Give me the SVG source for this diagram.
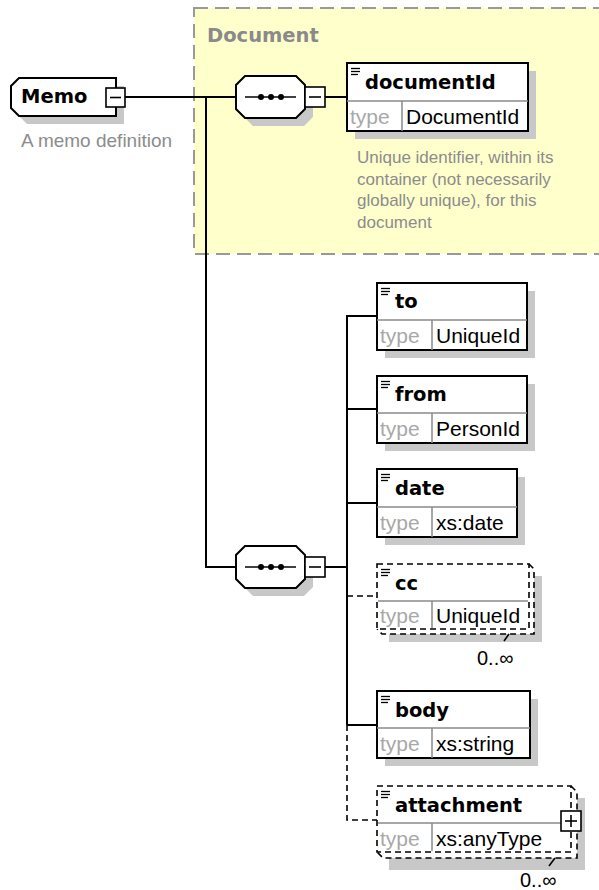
<svg xmlns="http://www.w3.org/2000/svg" width="599" height="890" viewBox="0 0 599 890">
<defs>
<style>
.bg{fill:#ffffff}
.grp{fill:#ffffcc;stroke:#999999;stroke-width:2;stroke-dasharray:14 7}
.grpt{font-family:"DejaVu Sans",sans-serif;font-weight:bold;font-size:19.5px;fill:#8a8a8a}
.sh{fill:#c8c8c8}
.box{fill:#ffffff;stroke:#000000;stroke-width:2}
.dbox{fill:#ffffff;stroke:#000000;stroke-width:1.6;stroke-dasharray:6 4}
.dline{fill:none;stroke:#000000;stroke-width:1.6;stroke-dasharray:6 4}
.div{stroke:#8a8a8a;stroke-width:1.5}
.icon{stroke:#000000;stroke-width:1.3}
.name{font-family:"DejaVu Sans",sans-serif;font-weight:bold;font-size:19.5px;fill:#000000}
.tl{font-family:"Liberation Sans",Arial,sans-serif;font-size:21px;fill:#a8a8a8}
.tv{font-family:"Liberation Sans",Arial,sans-serif;font-size:21px;fill:#000000}
.desc{font-family:"Liberation Sans",Arial,sans-serif;font-size:19px;fill:#8c8c8c}
.desc2{font-family:"Liberation Sans",Arial,sans-serif;font-size:17px;fill:#8c8c8c}
.occ{font-family:"Liberation Sans",Arial,sans-serif;font-size:20px;fill:#000000}
.con{fill:none;stroke:#000000;stroke-width:2}
.btn{fill:#ffffff;stroke:#000000;stroke-width:1.6}
.sym{stroke:#000000;stroke-width:1.6}
</style>
</defs>
<rect class="bg" x="0" y="0" width="599" height="890"/>

<g id="Document">
<rect class="grp" x="194" y="8" width="420" height="246"/>
<text class="grpt" x="207" y="42">Document</text>
</g>

<g id="connectors">
<line class="con" x1="125" y1="97" x2="236" y2="97"/>
<polyline class="con" points="206,97 206,567 236,567"/>
<line class="con" x1="325" y1="97" x2="347" y2="97"/>
<line class="con" x1="325" y1="567" x2="347" y2="567"/>
<line class="con" x1="347" y1="315" x2="347" y2="725"/>
<line class="con" x1="347" y1="316" x2="377" y2="316"/>
<line class="con" x1="347" y1="409" x2="377" y2="409"/>
<line class="con" x1="347" y1="503" x2="377" y2="503"/>
<line class="con" x1="347" y1="725" x2="377" y2="725"/>
<line class="dline" x1="347" y1="596" x2="377" y2="596"/>
<polyline class="dline" points="347,725 347,820 377,820"/>
</g>

<g id="Memo">
<path class="sh" d="M27,86 L124,86 L124,124 L27,124 L19,116 L19,94 Z"/>
<path class="box" d="M19,78 L116,78 L116,116 L19,116 L11,108 L11,86 Z"/>
<text class="name" x="21" y="103">Memo</text>
<rect class="btn" x="106" y="88" width="19" height="19"/>
<line class="sym" x1="110" y1="97.5" x2="121" y2="97.5"/>
<text class="desc" x="21" y="147">A memo definition</text>
</g>

<g id="seq1">
<path class="sh" d="M253,84 L304,84 L313,93 L313,117 L304,126 L253,126 L244,117 L244,93 Z"/>
<path class="box" d="M245,76 L296,76 L305,85 L305,109 L296,118 L245,118 L236,109 L236,85 Z"/>
<line class="sym" x1="245" y1="97" x2="296" y2="97"/>
<circle cx="261" cy="97" r="3"/><circle cx="271" cy="97" r="3"/><circle cx="281" cy="97" r="3"/>
<rect class="btn" x="305" y="87" width="20" height="20"/>
<line class="sym" x1="309" y1="97" x2="321" y2="97"/>
</g>

<g id="seq2">
<path class="sh" d="M253,554 L304,554 L313,563 L313,587 L304,596 L253,596 L244,587 L244,563 Z"/>
<path class="box" d="M245,546 L296,546 L305,555 L305,579 L296,588 L245,588 L236,579 L236,555 Z"/>
<line class="sym" x1="245" y1="567" x2="296" y2="567"/>
<circle cx="261" cy="567" r="3"/><circle cx="271" cy="567" r="3"/><circle cx="281" cy="567" r="3"/>
<rect class="btn" x="305" y="557" width="20" height="20"/>
<line class="sym" x1="309" y1="567" x2="321" y2="567"/>
</g>

<g id="documentId">
<rect class="sh" x="355" y="71" width="181" height="68"/>
<rect class="box" x="347" y="63" width="181" height="68"/>
<line class="div" x1="347" y1="101" x2="528" y2="101"/>
<line class="div" x1="402" y1="101" x2="402" y2="131"/>
<line class="icon" x1="351" y1="68.5" x2="360" y2="68.5"/><line class="icon" x1="351" y1="71.5" x2="360" y2="71.5"/><line class="icon" x1="351" y1="74.5" x2="358" y2="74.5"/>
<text class="name" x="365" y="89">documentId</text>
<text class="tl" x="350" y="124">type</text>
<text class="tv" x="406" y="124">DocumentId</text>
<text class="desc2" x="357" y="163">Unique identifier, within its</text>
<text class="desc2" x="357" y="184.5">container (not necessarily</text>
<text class="desc2" x="357" y="206">globally unique), for this</text>
<text class="desc2" x="357" y="227.5">document</text>
</g>

<g id="to">
<rect class="sh" x="385" y="291" width="150" height="67"/>
<rect class="box" x="377" y="283" width="150" height="67"/>
<line class="div" x1="377" y1="320" x2="527" y2="320"/>
<line class="div" x1="432" y1="320" x2="432" y2="350"/>
<line class="icon" x1="381" y1="288.5" x2="390" y2="288.5"/><line class="icon" x1="381" y1="291.5" x2="390" y2="291.5"/><line class="icon" x1="381" y1="294.5" x2="388" y2="294.5"/>
<text class="name" x="395" y="308">to</text>
<text class="tl" x="380" y="343">type</text>
<text class="tv" x="436" y="343">UniqueId</text>
</g>

<g id="from">
<rect class="sh" x="385" y="384" width="150" height="67"/>
<rect class="box" x="377" y="376" width="150" height="67"/>
<line class="div" x1="377" y1="413" x2="527" y2="413"/>
<line class="div" x1="432" y1="413" x2="432" y2="443"/>
<line class="icon" x1="381" y1="381.5" x2="390" y2="381.5"/><line class="icon" x1="381" y1="384.5" x2="390" y2="384.5"/><line class="icon" x1="381" y1="387.5" x2="388" y2="387.5"/>
<text class="name" x="395" y="401">from</text>
<text class="tl" x="380" y="436">type</text>
<text class="tv" x="436" y="436">PersonId</text>
</g>

<g id="date">
<rect class="sh" x="385" y="477" width="140" height="68"/>
<rect class="box" x="377" y="469" width="140" height="68"/>
<line class="div" x1="377" y1="507" x2="517" y2="507"/>
<line class="div" x1="432" y1="507" x2="432" y2="537"/>
<line class="icon" x1="381" y1="474.5" x2="390" y2="474.5"/><line class="icon" x1="381" y1="477.5" x2="390" y2="477.5"/><line class="icon" x1="381" y1="480.5" x2="388" y2="480.5"/>
<text class="name" x="395" y="495">date</text>
<text class="tl" x="380" y="530">type</text>
<text class="tv" x="436" y="530">xs:date</text>
</g>

<g id="cc">
<rect class="sh" x="389" y="576" width="153" height="66"/>
<path class="dbox" d="M529,564 L534,569 L534,634 L382,634 L377,629"/>
<rect class="dbox" x="377" y="564" width="152" height="65"/>
<line class="div" x1="378" y1="601" x2="528" y2="601"/>
<line class="div" x1="432" y1="601" x2="432" y2="628"/>
<line class="icon" x1="381" y1="569.5" x2="390" y2="569.5"/><line class="icon" x1="381" y1="572.5" x2="390" y2="572.5"/><line class="icon" x1="381" y1="575.5" x2="388" y2="575.5"/>
<text class="name" x="395" y="590">cc</text>
<text class="tl" x="380" y="623">type</text>
<text class="tv" x="436" y="623">UniqueId</text>
<line class="sym" x1="509" y1="634" x2="504" y2="641"/>
<text class="occ" x="477" y="665">0..∞</text>
</g>

<g id="body">
<rect class="sh" x="385" y="699" width="153" height="67"/>
<rect class="box" x="377" y="691" width="153" height="67"/>
<line class="div" x1="377" y1="728" x2="530" y2="728"/>
<line class="div" x1="432" y1="728" x2="432" y2="758"/>
<line class="icon" x1="381" y1="696.5" x2="390" y2="696.5"/><line class="icon" x1="381" y1="699.5" x2="390" y2="699.5"/><line class="icon" x1="381" y1="702.5" x2="388" y2="702.5"/>
<text class="name" x="395" y="717">body</text>
<text class="tl" x="380" y="751">type</text>
<text class="tv" x="436" y="751">xs:string</text>
</g>

<g id="attachment">
<rect class="sh" x="389" y="798" width="196" height="72"/>
<path class="dbox" d="M571,786 L577,792 L577,858 L383,858 L377,852"/>
<rect class="dbox" x="377" y="786" width="194" height="66"/>
<line class="div" x1="378" y1="823" x2="570" y2="823"/>
<line class="div" x1="432" y1="823" x2="432" y2="851"/>
<line class="icon" x1="381" y1="791.5" x2="390" y2="791.5"/><line class="icon" x1="381" y1="794.5" x2="390" y2="794.5"/><line class="icon" x1="381" y1="797.5" x2="388" y2="797.5"/>
<text class="name" x="395" y="812">attachment</text>
<text class="tl" x="380" y="846">type</text>
<text class="tv" x="436" y="846">xs:anyType</text>
<rect class="btn" x="561" y="811" width="20" height="20"/>
<line class="sym" x1="565" y1="821" x2="577" y2="821"/>
<line class="sym" x1="571" y1="815" x2="571" y2="827"/>
<line class="sym" x1="555" y1="858" x2="549" y2="866"/>
<text class="occ" x="520" y="887">0..∞</text>
</g>
</svg>
